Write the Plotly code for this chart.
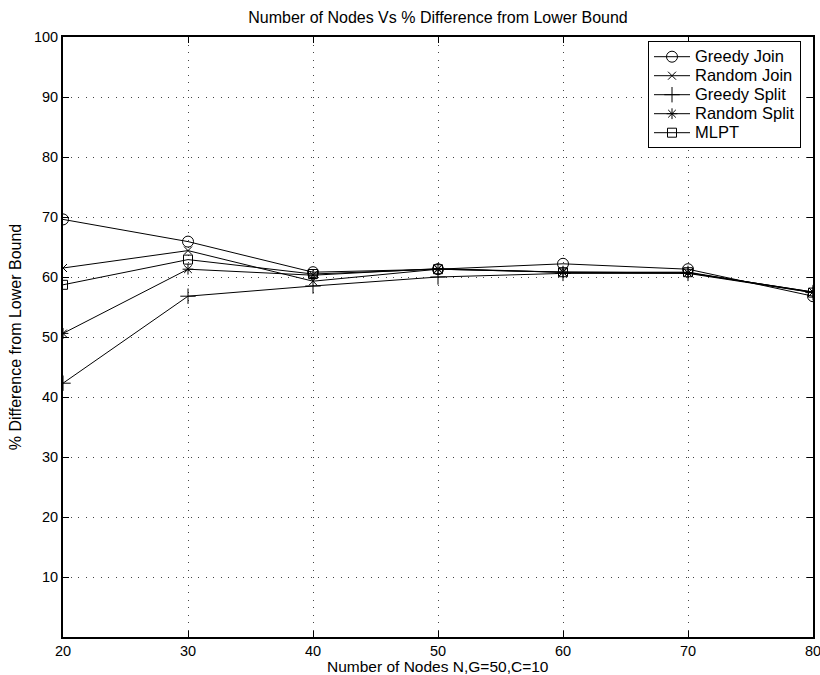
import plotly.graph_objects as go

nodes = [20, 30, 40, 50, 60, 70, 80]
greedy_join = [69.6, 65.9, 60.8, 61.3, 62.2, 61.3, 56.8]
random_join = [61.5, 64.4, 59.3, 61.3, 60.8, 60.7, 57.5]
greedy_split = [42.3, 56.8, 58.5, 60.0, 60.6, 60.6, 57.4]
random_split = [50.6, 61.3, 60.3, 61.4, 60.8, 60.7, 57.5]
mlpt = [58.7, 62.9, 60.5, 61.3, 60.8, 60.8, 57.4]
x_title = "Number of Nodes N,G=50,C=10"

series = [
    ("Greedy Join", greedy_join, "circle-open", 11),
    ("Random Join", random_join, "x-thin-open", 8),
    ("Greedy Split", greedy_split, "cross-thin-open", 11),
    ("Random Split", random_split, "asterisk-open", 9),
    ("MLPT", mlpt, "square-open", 9),
]

FAM = "Liberation Sans, Arial, Helvetica, sans-serif"

fig = go.Figure()
for name, vals, sym, sz in series:
    fig.add_trace(go.Scatter(
        x=nodes, y=vals,
        name='<span style="font-size:16.5px">' + name + '</span>',
        mode="lines+markers",
        line=dict(color="black", width=1),
        marker=dict(symbol=sym, size=sz, color="black", line=dict(color="black", width=1)),
    ))

font = dict(family=FAM, size=14.5, color="black")
axis_common = dict(
    showline=True, linecolor="black", linewidth=1.8, mirror="ticks",
    ticks="inside", ticklen=6, tickcolor="black", tickwidth=1,
    showgrid=True, gridcolor="#444", griddash="1px,6.5px", gridwidth=1,
    zeroline=False, tickfont=font, automargin=True, ticklabeloverflow="allow",
)
fig.update_layout(
    width=820, height=675,
    margin=dict(l=63, r=7, t=37, b=38, autoexpand=False),
    paper_bgcolor="white", plot_bgcolor="white",
    font=font,
    title=dict(text="Number of Nodes Vs % Difference from Lower Bound",
               x=0.5, xref="paper", xanchor="center", y=1 - 17.5 / 675, yanchor="middle",
               font=dict(family=FAM, size=16, color="black")),
    xaxis=dict(range=[20, 80], tickvals=nodes, **axis_common),
    yaxis=dict(range=[0, 100], tickvals=list(range(10, 101, 10)),
               title=dict(text="% Difference from Lower Bound", standoff=8,
                          font=dict(family=FAM, size=16, color="black")),
               **axis_common),
    legend=dict(x=0.984, y=0.993, xanchor="right", yanchor="top",
                bgcolor="white", bordercolor="black", borderwidth=1,
                font=dict(family=FAM, size=12.3, color="black"),
                tracegroupgap=0, itemwidth=36),
    showlegend=True,
)
fig.add_annotation(text=x_title, xref="paper", yref="paper", x=0.5, y=-29 / 600,
                   xanchor="center", yanchor="middle", showarrow=False,
                   font=dict(family=FAM, size=15.5, color="black"))
fig.write_html("out.html")
